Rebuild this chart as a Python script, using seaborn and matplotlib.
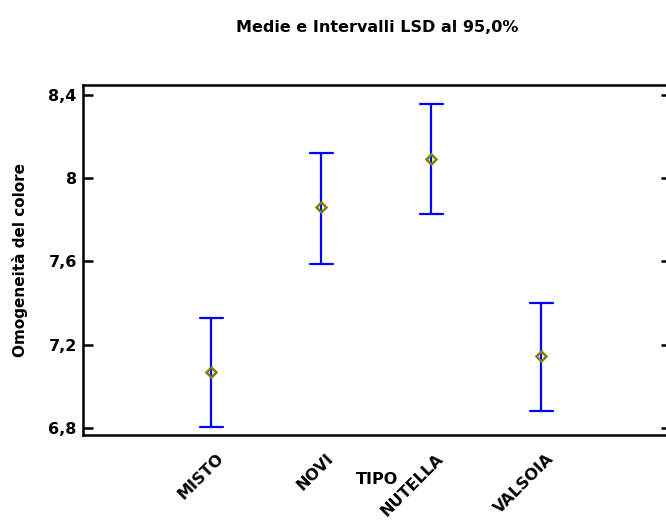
import matplotlib
matplotlib.use("Agg")
import matplotlib.pyplot as plt
import matplotlib.transforms as mtransforms
import seaborn as sns
import pandas as pd

# ---- data ----
categories = ["MISTO", "NOVI", "NUTELLA", "VALSOIA"]
means = [7.07, 7.86, 8.09, 7.145]
lower = [6.805, 7.59, 7.83, 6.88]
upper = [7.33, 8.12, 8.355, 7.40]
yticks = [6.8, 7.2, 7.6, 8.0, 8.4]
ytick_labels = ["6,8", "7,2", "7,6", "8", "8,4"]
title = "Medie e Intervalli LSD al 95,0%"
xlabel = "TIPO"
ylabel = "Omogeneità del colore"

rows = []
for c, lo, m, hi in zip(categories, lower, means, upper):
    for v in (lo, m, hi):
        rows.append({"TIPO": c, "val": v})
df = pd.DataFrame(rows)

sns.set_style("ticks")
plt.rcParams["font.family"] = ["DejaVu Sans"]
plt.rcParams["font.weight"] = "bold"
for k in ("text.color", "axes.labelcolor", "xtick.color", "ytick.color",
          "axes.edgecolor"):
    plt.rcParams[k] = "black"

fig = plt.figure(figsize=(6.66, 5.21), dpi=100)
ax = fig.add_axes([83 / 666, (521 - 435) / 521, (671 - 83) / 666, 350 / 521])

sns.pointplot(data=df, x="TIPO", y="val", order=categories,
              estimator="median", errorbar=("pi", 100),
              linestyle="none", marker="D", markersize=5,
              markerfacecolor="none", markeredgecolor="#808000",
              markeredgewidth=1.8, color="#808000",
              capsize=0.21,
              err_kws={"color": "#0000ff", "linewidth": 1.6},
              ax=ax)

for ln in ax.lines:
    if ln.get_marker() not in (None, "None", "", " "):
        ln.set_zorder(5)

ax.set_xlim(-1.164, 4.18)
ax.set_ylim(6.766, 8.448)
ax.set_yticks(yticks)
ax.set_yticklabels(ytick_labels, fontsize=11.5, fontweight="bold", color="black")

for s in ax.spines.values():
    s.set_linewidth(1.8)
    s.set_color("black")
    s.set_visible(True)

ax.tick_params(axis="y", direction="in", length=7, width=1.8, left=True, right=True,
               pad=4.5, colors="black")
ax.tick_params(axis="x", length=0, pad=15, colors="black")

ax.set_xticks(range(len(categories)))
ax.set_xticklabels(categories, rotation=45, ha="right", va="center",
                   rotation_mode="anchor", fontsize=11.5, fontweight="bold",
                   color="black")
offset = mtransforms.ScaledTranslation(10 / 100, 0, fig.dpi_scale_trans)
for lab in ax.get_xticklabels():
    lab.set_transform(lab.get_transform() + offset)

ax.set_xlabel(xlabel, fontsize=11.5, fontweight="bold", color="black")
ax.xaxis.set_label_coords(0.5, -0.106)
ax.set_ylabel(ylabel, fontsize=11, fontweight="bold", color="black")
ax.yaxis.set_label_coords(-0.0935, 0.5)

fig.text(377 / 666, 1 - 32 / 521, title, ha="center", va="baseline",
         fontsize=11.5, fontweight="bold", color="black")

fig.savefig("out.png", dpi=100)
